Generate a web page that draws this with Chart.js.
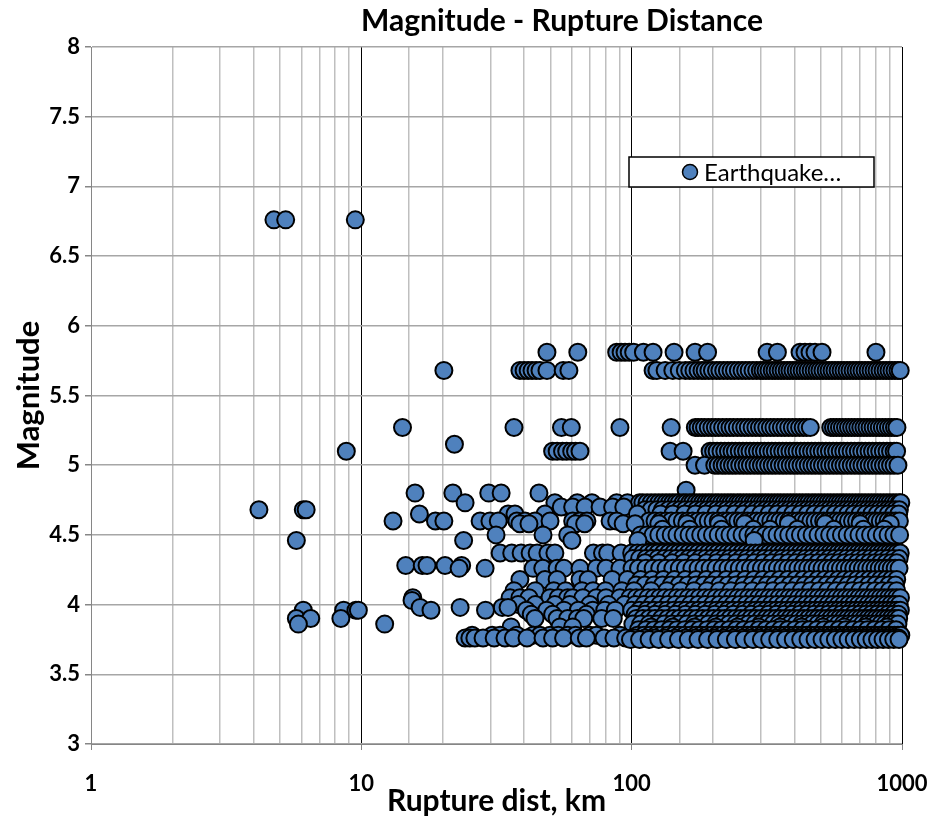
<!DOCTYPE html>
<html><head><meta charset="utf-8">
<script src="https://cdn.jsdelivr.net/npm/chart.js@4.4.1/dist/chart.umd.min.js"></script>
<style>html,body{margin:0;padding:0;background:#fff}#wrap{width:930px;height:817px;position:relative}</style>
</head><body><div id="wrap"><canvas id="c" width="930" height="817"></canvas></div>
<script>
const chartTitle = "Magnitude - Rupture Distance";
const xAxisTitle = "Rupture dist, km";
const yAxisTitle = "Magnitude";
const seriesName = "Earthquake\u2026";
const xTickLabels = [1, 10, 100, 1000];
const yTickLabels = [3, 3.5, 4, 4.5, 5, 5.5, 6, 6.5, 7, 7.5, 8];

// Magnitude levels (rows of points) and the rupture distances (km) read for each row
const magnitudeLevels = [6.76, 5.81, 5.68, 5.27, 5.15, 5.10, 5.00, 4.82, 4.80, 4.73, 4.70, 4.68, 4.65, 4.60, 4.58, 4.54, 4.50, 4.46, 4.37, 4.33, 4.30, 4.28, 4.26, 4.18, 4.14, 4.10, 4.05, 4.03, 4.00, 3.98, 3.96, 3.93, 3.90, 3.86, 3.84, 3.82, 3.78, 3.76, 3.75];
const m676 = [4.75, 5.25, 9.5];
const m581 = [48.6, 63.2, 88, 91.4, 94.5, 97.9, 101.7, 110.5, 120, 143.5, 171.6, 190.9, 317, 346, 419.5, 437.7, 456.8, 476.7, 506, 801];
const m568 = [20.2, 38.6, 40, 41.4, 42.8, 44.3, 45.8, 48.6, 55.8, 58.6, 120, 124, 133, 142, 150, 158, 164, 170, 176, 182, 187, 193, 199, 206, 212, 219, 226, 233, 240, 248, 256, 264, 272, 281, 290, 299, 306, 314, 322, 331, 339, 348, 357, 366, 376, 385, 395, 406, 416, 427, 438, 449, 461, 473, 485, 497, 510, 524, 537, 551, 565, 580, 595, 610, 626, 642, 659, 676, 693, 711, 730, 749, 768, 788, 808, 829, 851, 873, 895, 918, 942, 966, 985];
const m527 = [14.2, 36.7, 55, 59.8, 90.5, 140, 172, 176, 181, 186, 192, 198, 204, 210, 217, 224, 231, 238, 246, 254, 262, 270, 279, 288, 297, 306, 316, 326, 336, 347, 358, 369, 381, 393, 405, 418, 431, 444, 458, 545, 558, 572, 587, 602, 618, 634, 651, 668, 686, 704, 723, 742, 762, 782, 803, 824, 846, 868, 891, 914, 938, 958];
const m515 = [22.1];
const m510 = [8.8, 51, 53, 55.5, 57.5, 60, 62, 64.4, 138.7, 155, 195, 201, 207, 214, 221, 228, 235, 242, 250, 258, 266, 274, 283, 292, 301, 310, 320, 330, 340, 351, 362, 373, 385, 397, 409, 422, 435, 449, 463, 477, 492, 507, 523, 539, 556, 573, 591, 609, 628, 648, 668, 689, 710, 732, 755, 778, 802, 827, 853, 880, 907, 935, 955];
const m500 = [171.6, 186, 203, 209, 216, 222, 229, 236, 243, 251, 259, 267, 275, 284, 293, 302, 311, 321, 331, 341, 352, 363, 374, 386, 398, 410, 423, 436, 450, 464, 478, 493, 508, 524, 540, 557, 574, 592, 610, 629, 649, 669, 690, 711, 733, 756, 779, 803, 828, 854, 880, 907, 935, 966];
const m482 = [159];
const m480 = [15.8, 21.8, 29.6, 32.9, 45.4];
const m473 = [24.2, 52, 62.9, 71.3, 88, 96.5, 107, 110, 114, 118, 122, 126, 130, 134, 138, 142, 146, 150, 155, 159, 164, 168, 173, 178, 183, 188, 193, 198, 204, 209, 215, 221, 227, 233, 239, 246, 252, 259, 266, 273, 281, 288, 296, 304, 312, 320, 329, 338, 347, 356, 366, 376, 386, 396, 407, 418, 429, 441, 452, 465, 477, 490, 503, 517, 531, 545, 560, 575, 590, 606, 622, 639, 656, 674, 692, 711, 730, 750, 770, 790, 812, 833, 856, 879, 902, 927, 951, 977, 990];
const m470 = [54.9, 60.5, 67.2, 76.4, 85, 93.5];
const m468 = [4.18, 6.1, 6.25, 112, 118, 124, 130, 137, 144, 151, 158, 166, 174, 182, 190, 198, 207, 216, 225, 235, 245, 255, 266, 277, 289, 301, 313, 326, 339, 353, 367, 382, 397, 413, 429, 446, 463, 481, 499, 518, 538, 558, 579, 600, 622, 645, 669, 693, 718, 744, 771, 798, 826, 855, 885, 915, 946, 978];
const m465 = [16.4, 34.9, 37, 47.8, 105, 128, 142, 157, 172, 188, 205, 222, 240, 259, 279, 300, 322, 345, 369, 394, 420, 447, 475, 504, 534, 565, 597, 630, 664, 699, 735, 772, 810, 849, 889, 930, 972];
const m460 = [13.1, 18.8, 20.2, 27.5, 29.9, 32.1, 37.6, 40.3, 43.9, 49.9, 60.5, 64.4, 68.3, 83.2, 88, 116, 122, 128, 134, 140, 147, 154, 161, 168, 176, 184, 192, 200, 209, 218, 227, 237, 247, 257, 268, 279, 290, 302, 314, 327, 340, 353, 367, 381, 396, 411, 427, 443, 460, 477, 495, 513, 532, 551, 571, 591, 612, 634, 656, 679, 703, 727, 752, 778, 804, 831, 859, 888, 917, 947, 978];
const m458 = [38.6, 41.7, 62, 67, 93, 103, 126, 160, 210, 262, 380, 520, 700, 905];
const m454 = [130, 164, 215, 282, 325, 410, 560, 720, 860];
const m450 = [31.5, 47, 58, 108, 114, 120, 126, 133, 140, 147, 155, 163, 171, 180, 189, 199, 209, 220, 231, 243, 256, 269, 283, 297, 312, 328, 345, 363, 381, 401, 421, 443, 465, 489, 514, 540, 568, 597, 627, 659, 693, 728, 765, 804, 845, 888, 933, 980];
const m446 = [5.75, 23.9, 60.1, 105.5, 284];
const m437 = [32.6, 36, 39, 42.1, 44.7, 49, 52, 72.2, 78, 81.5, 91.4, 100, 105, 110, 115, 120, 125, 131, 137, 143, 149, 155, 162, 169, 176, 184, 192, 200, 208, 217, 226, 235, 245, 255, 265, 276, 287, 298, 310, 322, 335, 348, 361, 375, 389, 404, 419, 435, 451, 468, 485, 503, 521, 540, 559, 579, 599, 620, 642, 664, 687, 711, 735, 760, 786, 812, 839, 867, 895, 924, 954, 985];
const m433 = [101, 107, 113, 119, 125, 132, 139, 146, 154, 162, 170, 179, 188, 198, 208, 219, 230, 242, 254, 267, 281, 295, 310, 326, 343, 360, 379, 398, 418, 440, 462, 486, 511, 537, 564, 593, 623, 655, 689, 724, 761, 800, 841, 884, 929, 976];
const m430 = [112, 126, 141, 156, 172, 189, 206, 224, 243, 263, 284, 306, 329, 353, 378, 404, 431, 459, 488, 518, 549, 581, 614, 648, 683, 719, 756, 794, 833, 873, 914, 956];
const m428 = [14.6, 16.8, 17.5, 20.4, 23.5];
const m426 = [23, 28.7, 43.2, 46.9, 53, 56.2, 64.4, 74, 80.4, 90.5, 100.3, 106, 113, 120, 127, 134, 142, 150, 158, 167, 176, 185, 195, 205, 216, 227, 238, 250, 262, 275, 288, 302, 316, 331, 346, 362, 378, 395, 412, 430, 448, 467, 486, 506, 527, 548, 570, 592, 615, 639, 663, 688, 714, 740, 767, 795, 823, 852, 882, 912, 943, 975];
const m418 = [38.6, 47.8, 53, 64.4, 69, 84.7, 96.5, 108, 119, 131, 144, 158, 173, 189, 206, 224, 243, 263, 284, 306, 329, 353, 378, 404, 431, 459, 488, 518, 549, 581, 614, 648, 683, 719, 756, 794, 833, 873, 914, 956];
const m414 = [104, 112, 121, 130, 140, 150, 161, 173, 185, 198, 212, 227, 243, 260, 278, 297, 317, 338, 361, 385, 410, 437, 465, 495, 526, 559, 594, 631, 669, 710, 753, 798, 845, 894, 946];
const m410 = [36.7, 44, 51.5, 57, 65.5, 72, 80, 92, 102, 118, 135, 152, 170, 190, 211, 233, 256, 280, 306, 333, 362, 392, 424, 458, 494, 531, 570, 611, 654, 699, 746, 795, 846, 899, 955];
const m405 = [15.5, 35.5, 38.6, 41.7, 49.9, 53.5, 58, 60.5, 66, 74, 80.4, 90.5, 98.6, 104, 109, 115, 121, 127, 133, 140, 147, 154, 162, 170, 178, 187, 196, 205, 215, 225, 236, 247, 258, 270, 282, 295, 308, 322, 336, 351, 366, 382, 398, 415, 433, 451, 470, 489, 509, 530, 551, 573, 596, 619, 643, 668, 693, 719, 746, 774, 802, 831, 861, 892, 923, 955, 987];
const m403 = [15.4];
const m400 = [38, 44, 52, 59, 70, 82, 94, 103, 111, 119, 127, 136, 145, 155, 165, 176, 187, 199, 211, 224, 237, 251, 265, 280, 295, 311, 328, 345, 363, 382, 401, 421, 442, 463, 485, 508, 532, 556, 581, 607, 634, 661, 689, 718, 748, 778, 809, 841, 874, 908, 942, 977];
const m398 = [16.5, 23.2, 33.2, 34.9];
const m396 = [6.1, 8.6, 9.55, 9.75, 18.1, 28.8, 40.8, 48.5, 56.2, 63.5, 71.8, 79.5, 87, 100, 107, 114, 121, 128, 135, 143, 151, 159, 168, 177, 186, 196, 206, 216, 227, 238, 250, 262, 274, 287, 300, 314, 328, 343, 358, 374, 390, 407, 424, 442, 460, 479, 498, 518, 539, 560, 582, 604, 627, 651, 675, 700, 726, 752, 779, 807, 835, 864, 894, 924, 955, 986];
const m393 = [42.5, 51, 68, 103, 112, 122, 133, 145, 158, 172, 187, 203, 220, 238, 257, 277, 298, 320, 343, 367, 392, 418, 445, 473, 502, 532, 563, 595, 628, 662, 697, 733, 770, 808, 847, 887, 928, 970];
const m390 = [5.75, 6.5, 8.4, 43.9, 53, 58, 63, 66.5, 77.5, 85.5, 104, 110, 116, 122, 129, 136, 143, 150, 158, 166, 174, 183, 192, 201, 211, 221, 231, 242, 253, 264, 276, 288, 301, 314, 327, 341, 355, 370, 385, 401, 417, 434, 451, 469, 487, 506, 525, 545, 565, 586, 607, 629, 652, 675, 699, 723, 748, 774, 800, 827, 855, 883, 912, 942, 972];
const m386 = [5.85, 12.2, 101, 108, 116, 124, 132, 141, 150, 160, 170, 181, 192, 204, 216, 229, 242, 256, 270, 285, 300, 316, 333, 350, 368, 386, 405, 425, 445, 466, 488, 510, 533, 557, 581, 606, 632, 659, 686, 714, 743, 773, 803, 834, 866, 899, 932, 966];
const m384 = [35.8, 54.3, 60.5, 118, 142, 171, 205, 246, 295, 354, 425, 510, 612, 734, 880];
const m382 = [106, 113, 121, 129, 138, 147, 157, 167, 178, 190, 202, 215, 229, 244, 260, 277, 295, 314, 334, 355, 378, 402, 428, 455, 484, 515, 548, 583, 620, 659, 701, 745, 792, 842, 895, 951];
const m378 = [25.7, 30.5, 32.6, 37.6, 43.2, 45.8, 49.9, 53.5, 58, 62, 70.1, 74, 90.5, 105, 111, 117, 123, 129, 136, 143, 150, 157, 165, 173, 181, 189, 198, 207, 216, 226, 236, 246, 257, 268, 279, 291, 303, 315, 328, 341, 355, 369, 383, 398, 413, 429, 445, 462, 479, 497, 515, 534, 553, 573, 593, 614, 635, 657, 679, 702, 726, 750, 775, 800, 826, 853, 880, 908, 937, 966, 990];
const m376 = [24.2, 25.2, 26.3, 28.2, 31, 34, 36.5, 41, 47, 51, 56, 64, 68, 79, 86, 95, 103, 112, 122, 133, 145, 158, 172, 187, 203, 220, 238, 257, 277, 298, 320, 343, 367, 392, 418, 445, 473, 502, 532, 563, 595, 628, 662, 697, 733, 770, 808, 847, 887, 928, 970];
const m375 = [99, 107, 116, 126, 137, 149, 162, 176, 191, 207, 224, 242, 261, 281, 302, 324, 347, 371, 396, 422, 449, 477, 506, 536, 567, 599, 632, 666, 701, 737, 774, 812, 851, 891, 932, 975];

const distanceRows = [m676, m581, m568, m527, m515, m510, m500, m482, m480, m473, m470, m468, m465, m460, m458, m454, m450, m446, m437, m433, m430, m428, m426, m418, m414, m410, m405, m403, m400, m398, m396, m393, m390, m386, m384, m382, m378, m376, m375];

const points = [];
magnitudeLevels.forEach((m, i) => distanceRows[i].forEach(d => points.push({x: d, y: m})));

const FONT = "Lato, 'Liberation Sans', Arial, sans-serif";
const isDecade = v => Math.abs(Math.log10(v) - Math.round(Math.log10(v))) < 1e-9;

const titlePlugin = {
  id: 'customTitle',
  afterDraw(chart) {
    const ctx = chart.ctx;
    ctx.save();
    ctx.font = "bold 30px " + FONT;
    ctx.fillStyle = '#000';
    ctx.textAlign = 'center';
    ctx.textBaseline = 'middle';
    ctx.fillText(chartTitle, 562, 21);
    ctx.restore();
  }
};
const legendPlugin = {
  id: 'boxLegend',
  afterDraw(chart) {
    const ctx = chart.ctx;
    ctx.save();
    ctx.fillStyle = '#fff';
    ctx.fillRect(629, 157, 245, 30);
    ctx.strokeStyle = '#000';
    ctx.lineWidth = 1.5;
    ctx.strokeRect(629, 157, 245, 30);
    ctx.beginPath();
    ctx.arc(690, 172, 7.5, 0, Math.PI * 2);
    ctx.fillStyle = '#4F81BD';
    ctx.fill();
    ctx.lineWidth = 1.5;
    ctx.stroke();
    ctx.fillStyle = '#000';
    ctx.font = "24px " + FONT;
    ctx.textAlign = 'left';
    ctx.textBaseline = 'middle';
    ctx.fillText(chart.data.datasets[0].label, 704, 173);
    ctx.restore();
  }
};

new Chart(document.getElementById('c'), {
  type: 'scatter',
  data: { datasets: [{
    label: seriesName,
    data: points,
    backgroundColor: '#4F81BD',
    borderColor: '#000',
    borderWidth: 2,
    pointRadius: 8.5,
    pointHoverRadius: 8.5,
    clip: false
  }]},
  options: {
    responsive: false, animation: false, devicePixelRatio: 1,
    layout: { padding: { left: 0, right: 28, top: 47, bottom: 0 } },
    plugins: { legend: { display: false }, title: { display: false }, tooltip: { enabled: false } },
    scales: {
      x: {
        type: 'logarithmic', min: 1, max: 1000, position: 'bottom',
        afterFit: s => { s.height = 73; s.paddingLeft = 0; s.paddingRight = 0; },
        border: { color: '#868686', width: 1 },
        grid: {
          color: c => (c.tick && isDecade(c.tick.value) && c.tick.value > 1) ? '#000' : '#BFBFBF',
          lineWidth: c => (c.tick && isDecade(c.tick.value)) ? 1 : 1.5,
          tickLength: 6,
          tickColor: c => (c.tick && isDecade(c.tick.value)) ? '#868686' : 'rgba(0,0,0,0)'
        },
        ticks: {
          autoSkip: false, maxRotation: 0, color: '#000', padding: 21,
          font: { family: FONT, size: 22, weight: 'bold' },
          callback: v => (xTickLabels.includes(Math.round(v)) && isDecade(v)) ? String(Math.round(v)) : ''
        },
        title: { display: true, text: xAxisTitle, color: '#000', padding: { top: 0, bottom: -2 },
          font: { family: FONT, size: 30, weight: 'bold' } }
      },
      y: {
        min: 3, max: 8,
        afterFit: s => { s.width = 91; s.paddingTop = 0; s.paddingBottom = 0; },
        border: { color: '#868686', width: 1 },
        grid: { color: '#A6A6A6', lineWidth: 1.5, tickLength: 6, tickColor: '#868686' },
        ticks: {
          stepSize: 0.5, color: '#000', padding: 5,
          font: { family: FONT, size: 22, weight: 'bold' },
          callback: v => yTickLabels.includes(v) ? String(v) : ''
        },
        title: { display: true, text: yAxisTitle, color: '#000', padding: { top: 10, bottom: 0 },
          font: { family: FONT, size: 31, weight: 'bold' } }
      }
    }
  },
  plugins: [titlePlugin, legendPlugin]
});
</script></body></html>
